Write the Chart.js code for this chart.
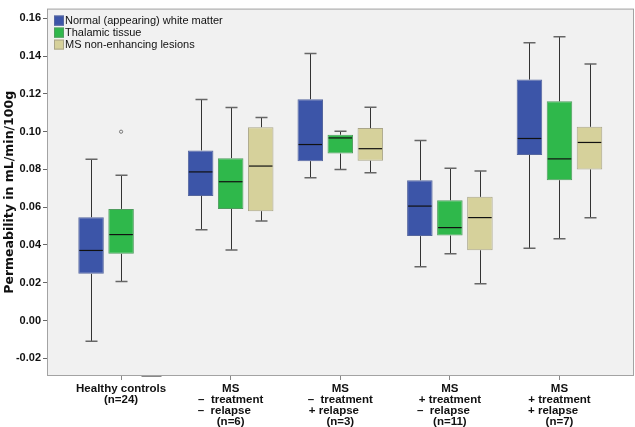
<!DOCTYPE html>
<html>
<head>
<meta charset="utf-8">
<script src="https://cdn.jsdelivr.net/npm/chart.js@4.4.1/dist/chart.umd.min.js"></script>
<style>
  body { margin: 0; background: #fff; }
</style>
</head>
<body>
<canvas id="chart" width="635" height="427"></canvas>
<script>
// group labels (one line per entry)
const groups = [
  ['Healthy controls', '(n=24)'],
  ['MS', '–  treatment', '–  relapse    ', '(n=6)'],
  ['MS', '–  treatment', '+ relapse    ', '(n=3)'],
  ['MS', '+ treatment', '–  relapse    ', '(n=11)'],
  ['MS', '+ treatment', '+ relapse    ', '(n=7)']
];

const seriesNames = ['Normal (appearing) white matter', 'Thalamic tissue', 'MS non\u2011enhancing lesions'];

// box stats per group: [min, q1, median, q3, max]
const whiteMatter = [
  [-0.0110, 0.0247, 0.0371, 0.0547, 0.0854],
  [0.0480, 0.0660, 0.0787, 0.0901, 0.1170],
  [0.0756, 0.0844, 0.0932, 0.1172, 0.1414],
  [0.0285, 0.0447, 0.0606, 0.0743, 0.0953],
  [0.0383, 0.0877, 0.0964, 0.1276, 0.1471]
];
const thalamic = [
  [0.0206, 0.0353, 0.0455, 0.0591, 0.0769],
  [0.0374, 0.0591, 0.0735, 0.0860, 0.1128],
  [0.0800, 0.0884, 0.0967, 0.0984, 0.1002],
  [0.0353, 0.0450, 0.0492, 0.0637, 0.0806],
  [0.0433, 0.0743, 0.0856, 0.1161, 0.1503]
];
const lesions = [
  null, // no lesions in healthy controls
  [0.0527, 0.0579, 0.0818, 0.1024, 0.1075],
  [0.0782, 0.0846, 0.0910, 0.1019, 0.1130],
  [0.0195, 0.0372, 0.0545, 0.0655, 0.0792],
  [0.0544, 0.0800, 0.0943, 0.1026, 0.1359]
];
// outliers: [series, group, value]
const outliers = [[1, 0, 0.100]];

const yTicks = [-0.02, 0, 0.02, 0.04, 0.06, 0.08, 0.10, 0.12, 0.14, 0.16];

const boxSeries = [whiteMatter, thalamic, lesions];
const fillColors = ['#3c55a8', '#2fb84b', '#d6d19b'];
const edgeColors = ['#56679f', '#4f9c5e', '#aaa68a'];

const boxPlugin = {
  id: 'boxes',
  beforeDraw(chart) {
    const { ctx, chartArea: a } = chart;
    ctx.save();
    ctx.fillStyle = '#f1f1f1';
    ctx.fillRect(a.left, a.top, a.width, a.height);
    ctx.restore();
  },
  afterDatasetsDraw(chart) {
    const { ctx, chartArea: a } = chart;
    const y = chart.scales.y;
    ctx.save();
    boxSeries.forEach((stats, si) => {
      const meta = chart.getDatasetMeta(si);
      stats.forEach((s, gi) => {
        const bar = meta.data[gi];
        const cx = Math.round(bar.x) + 0.5;
        if (!s) {
          // empty group: SPSS leaves a stub on the axis
          ctx.strokeStyle = '#888';
          ctx.lineWidth = 2;
          ctx.beginPath();
          ctx.moveTo(cx - 10, a.bottom);
          ctx.lineTo(cx + 10, a.bottom);
          ctx.stroke();
          return;
        }
        const [mn, q1, md, q3, mx] = s.map(v => y.getPixelForValue(v));
        const hw = bar.width / 2;
        // stems
        ctx.strokeStyle = '#333';
        ctx.lineWidth = 1;
        ctx.beginPath();
        ctx.moveTo(cx, q3); ctx.lineTo(cx, mx);
        ctx.moveTo(cx, q1); ctx.lineTo(cx, mn);
        ctx.stroke();
        // caps
        ctx.strokeStyle = '#666';
        ctx.lineWidth = 1.5;
        ctx.beginPath();
        ctx.moveTo(cx - 6, mx); ctx.lineTo(cx + 6, mx);
        ctx.moveTo(cx - 6, mn); ctx.lineTo(cx + 6, mn);
        ctx.stroke();
        // median
        ctx.strokeStyle = '#111';
        ctx.lineWidth = 1.2;
        ctx.beginPath();
        ctx.moveTo(bar.x - hw + 1, md); ctx.lineTo(bar.x + hw - 1, md);
        ctx.stroke();
      });
    });
    outliers.forEach(([si, gi, v]) => {
      const bar = chart.getDatasetMeta(si).data[gi];
      ctx.strokeStyle = '#777';
      ctx.lineWidth = 1;
      ctx.beginPath();
      ctx.arc(bar.x, y.getPixelForValue(v), 1.6, 0, Math.PI * 2);
      ctx.stroke();
    });
    ctx.restore();
  },
  afterDraw(chart) {
    const { ctx, chartArea: a } = chart;
    ctx.save();
    ctx.strokeStyle = '#a3a3a3';
    ctx.lineWidth = 1;
    ctx.strokeRect(a.left + 0.5, a.top + 0.5, a.width - 1, a.height - 1);
    // legend inside plot, top left
    ctx.font = '11px "Liberation Sans", Arial, sans-serif';
    ctx.textBaseline = 'middle';
    seriesNames.forEach((name, i) => {
      const top = a.top + 7 + i * 12;
      ctx.fillStyle = fillColors[i];
      ctx.fillRect(a.left + 7, top, 10, 10);
      ctx.strokeStyle = edgeColors[i];
      ctx.strokeRect(a.left + 7.5, top + 0.5, 9, 9);
      ctx.fillStyle = '#111';
      ctx.fillText(name, a.left + 18, top + 5.5);
    });
    ctx.restore();
  }
};

new Chart(document.getElementById('chart'), {
  type: 'bar',
  data: {
    datasets: boxSeries.map((stats, si) => ({
      label: seriesNames[si],
      data: stats.map((s, gi) => ({ x: gi, y: s ? [s[1], s[3]] : null })),
      backgroundColor: fillColors[si],
      borderColor: edgeColors[si],
      borderWidth: 1,
      borderSkipped: false,
      categoryPercentage: 0.822,
      barPercentage: 0.85
    }))
  },
  options: {
    responsive: false,
    animation: false,
    layout: { padding: { top: 1, right: 1, left: 0, bottom: 0 } },
    plugins: {
      legend: { display: false },
      tooltip: { enabled: false }
    },
    scales: {
      x: {
        type: 'linear',
        offset: false,
        min: -0.676,
        max: 4.68,
        afterBuildTicks(scale) {
          scale.ticks = groups.map((g, i) => ({ value: i }));
        },
        afterFit(scale) { scale.height = 51; },
        border: { display: false },
        grid: { offset: false, drawOnChartArea: false, drawTicks: true, tickLength: 4, color: '#888' },
        ticks: {
          autoSkip: false,
          maxRotation: 0,
          padding: 3,
          color: '#111',
          font: { family: '"Liberation Sans", Arial, sans-serif', size: 11.5, weight: 'bold', lineHeight: '11px' },
          callback: (v) => groups[v]
        }
      },
      y: {
        min: -0.0294,
        max: 0.1652,
        afterBuildTicks(scale) {
          scale.ticks = yTicks.map(v => ({ value: v }));
        },
        afterFit(scale) { scale.width = 47; },
        border: { display: false },
        grid: { drawOnChartArea: false, drawTicks: true, tickLength: 4, color: '#666' },
        ticks: {
          padding: 2,
          color: '#111',
          font: { family: '"Liberation Sans", Arial, sans-serif', size: 11, weight: 'bold' },
          callback: (v) => v.toFixed(2)
        },
        title: {
          display: true,
          text: 'Permeability in mL/min/100g',
          color: '#111',
          padding: { top: 2, bottom: 0 },
          font: { family: '"DejaVu Sans", Verdana, sans-serif', size: 12.5, weight: 'bold', lineHeight: 1.2 }
        }
      }
    }
  },
  plugins: [boxPlugin]
});
</script>
</body>
</html>
